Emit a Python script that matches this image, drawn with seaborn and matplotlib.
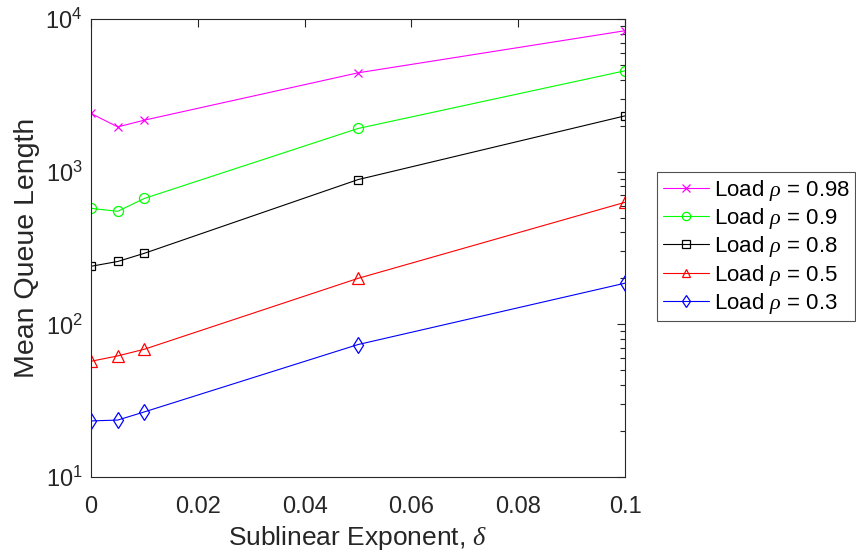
import matplotlib
matplotlib.use("Agg")
import matplotlib.pyplot as plt
import seaborn as sns
import pandas as pd
import numpy as np
from matplotlib.ticker import LogLocator, NullFormatter, FixedLocator

sns.set_theme(style="white")
plt.rcParams["font.family"] = ["Liberation Sans", "DejaVu Sans"]
plt.rcParams["mathtext.fontset"] = "custom"
plt.rcParams["mathtext.rm"] = "Liberation Sans"
plt.rcParams["mathtext.it"] = "Liberation Serif:italic"
plt.rcParams["mathtext.default"] = "it"

# Sublinear exponent values on the x axis
delta = [0.0, 0.005, 0.01, 0.05, 0.1]

# Mean queue length per load level
load_098 = [2405, 1965, 2175, 4440, 8380]
load_09 = [575, 550, 668, 1918, 4580]
load_08 = [240, 258, 292, 887, 2320]
load_05 = [57.3, 62.1, 68.7, 200, 630]
load_03 = [23.3, 23.6, 26.7, 73.7, 186]

labels = [r"Load $\rho$ = 0.98", r"Load $\rho$ = 0.9", r"Load $\rho$ = 0.8",
          r"Load $\rho$ = 0.5", r"Load $\rho$ = 0.3"]
series = [load_098, load_09, load_08, load_05, load_03]
colors = ["#ff00ff", "#00ff00", "#000000", "#ff0000", "#0000ff"]
markers = ["x", "o", "s", "^", "d"]
msizes = [6.0, 7.2, 5.6, 8.5, 8.5]

fig = plt.figure(figsize=(8.56, 5.56), dpi=100)
ax = fig.add_axes([91 / 856, 1 - 477 / 556, (625 - 91) / 856, (477 - 19) / 556])

for lab, vals, c, m, ms in zip(labels, series, colors, markers, msizes):
    df = pd.DataFrame({"delta": delta, "q": vals})
    sns.lineplot(data=df, x="delta", y="q", ax=ax, color=c, marker=m,
                 markersize=ms, markerfacecolor="none", markeredgecolor=c,
                 markeredgewidth=0.9, linewidth=0.8, label=lab)

ax.set_yscale("log")
ax.set_xlim(0, 0.1)
ax.set_ylim(10, 1e4)
ax.xaxis.set_major_locator(FixedLocator([0, 0.02, 0.04, 0.06, 0.08, 0.1]))
ax.set_xticklabels(["0", "0.02", "0.04", "0.06", "0.08", "0.1"])
ax.yaxis.set_major_locator(FixedLocator([10, 100, 1000, 10000]))
ax.set_yticklabels([r"$\mathrm{10^{1}}$", r"$\mathrm{10^{2}}$",
                    r"$\mathrm{10^{3}}$", r"$\mathrm{10^{4}}$"])
ax.yaxis.set_minor_locator(LogLocator(base=10, subs=np.arange(2, 10)))
ax.yaxis.set_minor_formatter(NullFormatter())

ax.tick_params(axis="both", which="both", direction="in", top=True, right=True,
               colors="#262626", labelcolor="#262626", labelsize=17)
ax.tick_params(axis="both", which="major", length=6, width=0.8)
ax.tick_params(axis="y", which="minor", length=3.5, width=0.8)
ax.tick_params(axis="x", which="major", pad=14)
ax.tick_params(axis="y", which="major", pad=6)
for sp in ax.spines.values():
    sp.set_color("#262626")
    sp.set_linewidth(0.8)
    sp.set_visible(True)

ax.set_xlabel(r"Sublinear Exponent, $\delta$", fontsize=19, color="#262626", labelpad=4)
ax.set_ylabel("Mean Queue Length", fontsize=20.5, color="#262626", labelpad=4)
ax.grid(False)

ax.get_legend().remove()
handles, labs = ax.get_legend_handles_labels()
leg = fig.legend(handles, labs, loc="upper left", bbox_to_anchor=(657 / 856, 1 - 172 / 556),
                 fontsize=16, frameon=True, fancybox=False, shadow=False,
                 handlelength=2.07, handletextpad=0.23, borderpad=0.25, labelspacing=0.15,
                 borderaxespad=0)
leg.get_frame().set_edgecolor("#262626")
leg.get_frame().set_linewidth(0.8)
for h in leg.legend_handles:
    h.set_markersize(6)
for t in leg.get_texts():
    t.set_color("black")

fig.savefig("out.png", dpi=100)
